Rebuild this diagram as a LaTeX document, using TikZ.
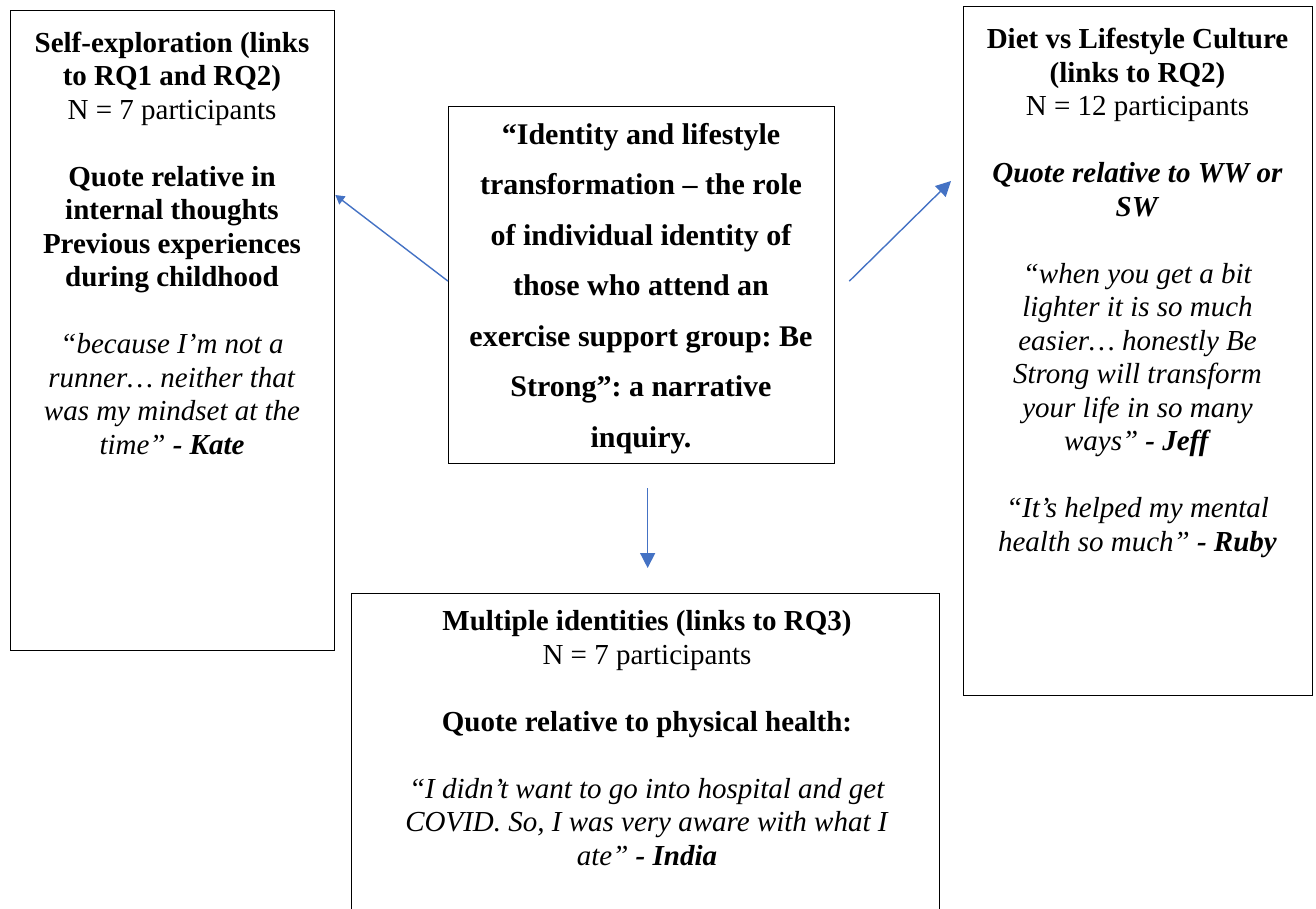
\documentclass[tikz,border=0pt]{standalone}
\usepackage{fontspec}
\setmainfont{Liberation Serif}
\usetikzlibrary{arrows.meta,calc}
\definecolor{arrowblue}{HTML}{4472C4}
\frenchspacing
\begin{document}
\begin{tikzpicture}[x=1pt,y=-1pt,
  box/.style={draw=black, line width=1.3pt, inner sep=0pt, anchor=north west},
  txt/.style={align=center, anchor=base, inner sep=0pt, font=\fontsize{29}{33.5}\selectfont\frenchspacing},
  ctxt/.style={align=center, anchor=base, inner sep=0pt, font=\fontsize{30}{50.5}\selectfont\bfseries\frenchspacing},
  link/.style={draw=arrowblue, line width=1.4pt, -{Triangle[length=15pt,width=15pt]}},
  smalllink/.style={draw=arrowblue, line width=1.4pt, -{Triangle[length=9pt,width=10pt]}}]
\useasboundingbox (0,0) rectangle (1316,909);
\clip (0,0) rectangle (1316,909);
\node[box, minimum width=324pt, minimum height=640pt] (lbox) at (10,10) {};
\node[box, minimum width=386pt, minimum height=357pt] (cbox) at (448,106) {};
\node[box, minimum width=349pt, minimum height=689pt] (rbox) at (963,6) {};
\node[box, minimum width=588pt, minimum height=340pt] (bbox) at (351,593) {};

\node[txt] (ltext) at (172,454) {\textbf{Self-exploration (links}\\
\textbf{to RQ1 and RQ2)}\\
N = 7 participants\\[33.5pt]
\textbf{Quote relative in}\\
\textbf{internal thoughts}\\
\textbf{Previous experiences}\\
\textbf{during childhood}\\[33.5pt]
\textit{“because I’m not a}\\
\textit{runner… neither that}\\
\textit{was my mindset at the}\\
\textit{time” \textbf{- Kate}}};

\node[txt] (rtext) at (1137.5,551) {\textbf{Diet vs Lifestyle Culture}\\
\textbf{(links to RQ2)}\\
N = 12 participants\\[33.5pt]
\textbf{\textit{Quote relative to WW or}}\\
\textbf{\textit{SW}}\\[33.5pt]
\textit{“when you get a bit}\\
\textit{lighter it is so much}\\
\textit{easier… honestly Be}\\
\textit{Strong will transform}\\
\textit{your life in so many}\\
\textit{ways” \textbf{- Jeff}}\\[33.5pt]
\textit{“It’s helped my mental}\\
\textit{health so much” \textbf{- Ruby}}};

\node[txt] (btext) at (647,865) {\textbf{Multiple identities (links to RQ3)}\\
N = 7 participants\\[33.5pt]
\textbf{Quote relative to physical health:}\\[33.5pt]
\textit{“I didn’t want to go into hospital and get}\\
\textit{COVID. So, I was very aware with what I}\\
\textit{ate” \textbf{- India}}};

\node[ctxt] (ctext) at (641,447) {“Identity and lifestyle\\
transformation – the role\\
of individual identity of\\
those who attend an\\
exercise support group: Be\\
Strong”: a narrative\\
inquiry.};

\draw[smalllink] ($(cbox.west)+(0,-4)$) -- ($(lbox.north east)+(0,185)$);
\draw[link] ($(cbox.east)+(14,-4)$) -- ($(rbox.north west)+(-12,175)$);
\draw[link] ($(cbox.south)+(6,24)$) -- ($(bbox.north)+(2,-25)$);
\end{tikzpicture}
\end{document}
